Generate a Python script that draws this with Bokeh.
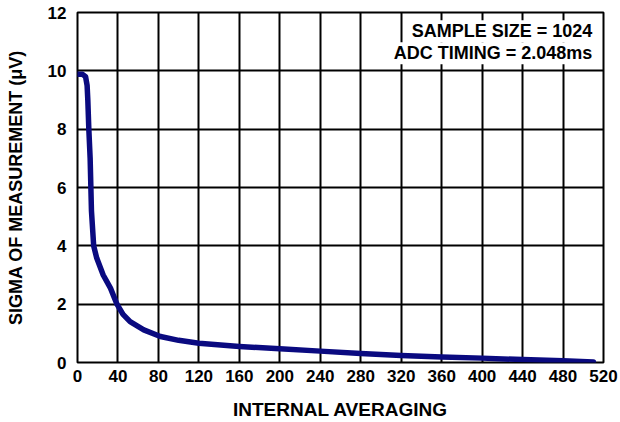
from bokeh.plotting import figure
from bokeh.models import FixedTicker, Label, Range1d
from bokeh.embed import file_html
from bokeh.resources import INLINE

# data
averaging = [0, 5, 8, 9.5, 10.2, 11.2, 12.5, 13.8, 16, 19, 25.4, 32.6, 39, 45, 52, 65.5, 82,
             100, 120, 160, 200, 240, 280, 320, 360, 400, 440, 480, 510]
sigma = [9.88, 9.88, 9.8, 9.5, 9.0, 8.0, 7.0, 5.2, 4.0, 3.58, 3.0, 2.55, 2.0, 1.65, 1.4, 1.12, 0.89,
         0.76, 0.66, 0.55, 0.47, 0.39, 0.31, 0.24, 0.19, 0.15, 0.1, 0.06, 0.02]
x_ticks = [0, 40, 80, 120, 160, 200, 240, 280, 320, 360, 400, 440, 480, 520]
y_ticks = [0, 2, 4, 6, 8, 10, 12]
notes = ["SAMPLE SIZE = 1024", "ADC TIMING = 2.048ms"]
note_x = 510
note_y = [11.36, 10.6]

FONT = "Liberation Sans"

p = figure(frame_width=526, frame_height=350, output_backend="svg", toolbar_location=None,
           x_range=Range1d(0, 520), y_range=Range1d(0, 12),
           min_border_left=77, min_border_right=17, min_border_top=12, min_border_bottom=58)
p.background_fill_color = "white"
p.border_fill_color = "white"
p.outline_line_color = "black"
p.outline_line_width = 2

p.xaxis.ticker = FixedTicker(ticks=x_ticks)
p.yaxis.ticker = FixedTicker(ticks=y_ticks)
for ax in (p.xaxis[0], p.yaxis[0]):
    ax.axis_line_color = None
    ax.major_tick_line_color = None
    ax.minor_tick_line_color = None
    ax.major_tick_out = 0
    ax.major_tick_in = 0
    ax.minor_tick_out = 0
    ax.minor_tick_in = 0
    ax.major_label_text_font = FONT
    ax.major_label_text_font_style = "bold"
    ax.major_label_text_font_size = "17px"
    ax.major_label_text_color = "black"
    ax.axis_label_text_font = FONT
    ax.axis_label_text_font_style = "bold"
    ax.axis_label_text_color = "black"
p.xaxis.axis_label_text_font_size = "19px"
p.yaxis.axis_label_text_font_size = "18px"
p.xaxis.axis_label = "INTERNAL AVERAGING"
p.yaxis.axis_label = "SIGMA OF MEASUREMENT (μV)"
p.xaxis.major_label_standoff = 7
p.xaxis.axis_label_standoff = 14
p.yaxis.major_label_standoff = 11
p.yaxis.axis_label_standoff = 19

for g in (p.xgrid[0], p.ygrid[0]):
    g.grid_line_color = "black"
    g.grid_line_width = 2
    g.grid_line_alpha = 1.0

p.line(averaging, sigma, line_color="#0a0a80", line_width=5.5, line_join="round", line_cap="round")

for t, yy in zip(notes, note_y):
    lab = Label(x=note_x, y=yy, text=t,
                text_align="right", text_baseline="middle",
                text_font=FONT, text_font_style="bold", text_font_size="18px", text_color="black",
                background_fill_color="white", padding=1)
    p.add_layout(lab)

open("out.html", "w").write(file_html(p, INLINE))
